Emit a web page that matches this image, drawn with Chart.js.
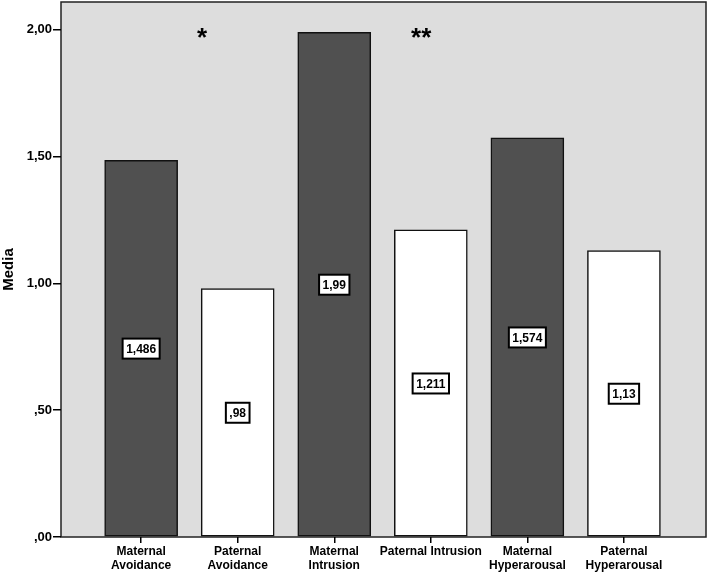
<!DOCTYPE html>
<html>
<head>
<meta charset="utf-8">
<script src="https://cdn.jsdelivr.net/npm/chart.js@4"></script>
<style>
  html, body { margin: 0; padding: 0; background: #fff; }
  #wrap { width: 707px; height: 575px; }
</style>
</head>
<body>
<div id="wrap"><canvas id="myBarChart" width="707" height="575"></canvas></div>
<script>
const categories = [
  ["Maternal", "Avoidance"],
  ["Paternal", "Avoidance"],
  ["Maternal", "Intrusion"],
  "Paternal Intrusion",
  ["Maternal", "Hyperarousal"],
  ["Paternal", "Hyperarousal"]
];
const means = [1.486, 0.98, 1.99, 1.211, 1.574, 1.13];
const barColors = ["#505050", "#ffffff", "#505050", "#ffffff", "#505050", "#ffffff"];
const yTicks = [0, 0.5, 1, 1.5, 2];
// significance marks: [category position, height, text]
const starX = [0.63, 2.9];
const starY = [1.99, 1.99];
const starText = ["*", "**"];

function spssNum(v, digits) {
  let s = digits == null ? String(v) : v.toFixed(digits);
  return s.replace(".", ",").replace(/^0,/, ",");
}

// gray plot background + frame
const plotBg = {
  id: "plotBg",
  beforeDraw(chart) {
    const { ctx, chartArea: a } = chart;
    ctx.save();
    ctx.fillStyle = "#dddddd";
    ctx.fillRect(a.left, a.top, a.right - a.left, a.bottom - a.top);
    ctx.strokeStyle = "#222";
    ctx.lineWidth = 1.5;
    ctx.strokeRect(a.left, a.top, a.right - a.left, a.bottom - a.top);
    ctx.restore();
  }
};

// value boxes in the middle of each bar, and the asterisks
const boxLabels = {
  id: "boxLabels",
  afterDatasetsDraw(chart) {
    const { ctx } = chart;
    const xs = chart.scales.x, ys = chart.scales.y;
    ctx.save();
    ctx.font = "bold 12px 'Liberation Sans', Arial, sans-serif";
    ctx.textAlign = "center";
    ctx.textBaseline = "middle";
    means.forEach((v, i) => {
      const x = xs.getPixelForValue(i);
      const y = ys.getPixelForValue(v / 2);
      const txt = spssNum(v);
      const w = ctx.measureText(txt).width + 7;
      const h = 20;
      ctx.fillStyle = "#fff";
      ctx.fillRect(x - w / 2, y - h / 2, w, h);
      ctx.strokeStyle = "#000";
      ctx.lineWidth = 2;
      ctx.strokeRect(x - w / 2, y - h / 2, w, h);
      ctx.fillStyle = "#000";
      ctx.fillText(txt, x, y + 1);
    });
    ctx.font = "bold 26px 'Liberation Sans', Arial, sans-serif";
    starText.forEach((t, i) => {
      ctx.fillText(t, xs.getPixelForValue(starX[i]), ys.getPixelForValue(starY[i]) + 6);
    });
    ctx.restore();
  }
};

new Chart(document.getElementById("myBarChart").getContext("2d"), {
  type: "bar",
  data: {
    datasets: [
      {
        data: means.map((v, i) => ({ x: i, y: v })),
        backgroundColor: barColors,
        borderColor: "#111",
        borderWidth: 1.5,
        borderSkipped: false,
        barThickness: 73
      }
    ]
  },
  plugins: [plotBg, boxLabels],
  options: {
    responsive: false,
    animation: false,
    layout: { padding: { top: 2, right: 1, left: 0, bottom: 0 } },
    plugins: {
      legend: { display: false },
      tooltip: { enabled: false }
    },
    scales: {
      x: {
        type: "linear",
        offset: false,
        min: -0.83,
        max: 5.85,
        afterBuildTicks(scale) {
          scale.ticks = categories.map((c, i) => ({ value: i }));
        },
        afterFit(scale) {
          scale.height = 38;
          scale.paddingLeft = 0;
          scale.paddingRight = 0;
        },
        border: { display: false },
        grid: { offset: false, drawOnChartArea: false, drawTicks: true, tickLength: 6, color: "#000", lineWidth: 1.5 },
        ticks: {
          color: "#000",
          padding: 2,
          maxRotation: 0,
          autoSkip: false,
          font: { family: "'Liberation Sans', Arial, sans-serif", size: 12, weight: "bold", lineHeight: 1.15 },
          callback: (v) => categories[v]
        }
      },
      y: {
        min: 0,
        max: 2.11,
        afterBuildTicks(scale) {
          scale.ticks = yTicks.map((v) => ({ value: v }));
        },
        afterFit(scale) {
          scale.width = 61;
          scale.paddingTop = 0;
          scale.paddingBottom = 0;
        },
        border: { display: false },
        grid: { drawOnChartArea: false, drawTicks: true, tickLength: 8, color: "#000", lineWidth: 1.5 },
        title: {
          display: true,
          text: "Media",
          color: "#000",
          padding: 0,
          font: { family: "'Liberation Sans', Arial, sans-serif", size: 15, weight: "bold" }
        },
        ticks: {
          color: "#000",
          padding: 1,
          font: { family: "'Liberation Sans', Arial, sans-serif", size: 13, weight: "bold" },
          callback: (v) => spssNum(v, 2)
        }
      }
    }
  }
});
</script>
</body>
</html>
